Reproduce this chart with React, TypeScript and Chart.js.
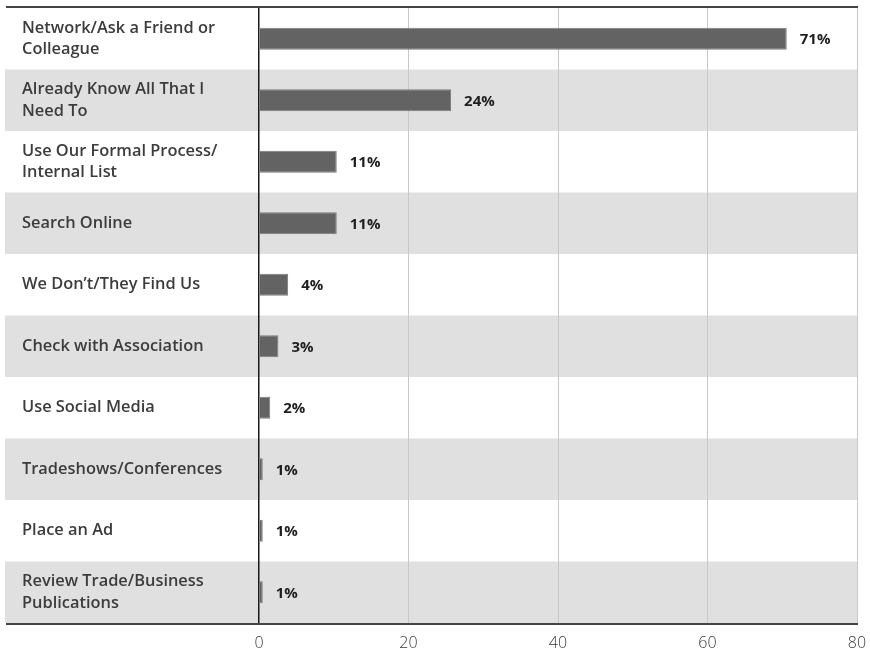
import React, { useEffect, useRef } from "react";
import { Chart, registerables } from "chart.js";

Chart.register(...registerables);

const categories: string[][] = [
  ["Network/Ask a Friend or", "Colleague"],
  ["Already Know All That I", "Need To"],
  ["Use Our Formal Process/", "Internal List"],
  ["Search Online"],
  ["We Don’t/They Find Us"],
  ["Check with Association"],
  ["Use Social Media"],
  ["Tradeshows/Conferences"],
  ["Place an Ad"],
  ["Review Trade/Business", "Publications"],
];

// bar lengths as drawn in the picture
const barValues: number[] = [70.6, 25.7, 10.4, 10.4, 3.9, 2.6, 1.5, 0.5, 0.5, 0.5];
// printed value labels
const valueLabels: string[] = ["71%", "24%", "11%", "11%", "4%", "3%", "2%", "1%", "1%", "1%"];

const xTicks: number[] = [0, 20, 40, 60, 80];

const FONT = "'Open Sans', 'Noto Sans', sans-serif";

export default function App() {
  const ref = useRef<HTMLCanvasElement | null>(null);

  useEffect(() => {
    document.body.style.margin = "0";
    const canvas = ref.current;
    if (!canvas) return;

    const bandsPlugin = {
      id: "bands",
      beforeDraw(chart: any) {
        const { ctx } = chart;
        const y = chart.scales.y;
        const n = categories.length;
        const h = (y.bottom - y.top) / n;
        const left = 5;
        const right = chart.chartArea.right + 1;
        ctx.save();
        ctx.fillStyle = "#e0e0e0";
        for (let i = 0; i < n; i++) {
          if (i % 2 === 1) {
            const c = y.getPixelForValue(i);
            ctx.fillRect(left, c - h / 2, right - left, h);
          }
        }
        ctx.restore();
      },
      afterDraw(chart: any) {
        const { ctx } = chart;
        const y = chart.scales.y;
        const right = chart.chartArea.right + 1;
        ctx.save();
        ctx.strokeStyle = "#444";
        ctx.lineWidth = 2;
        ctx.beginPath();
        ctx.moveTo(6, y.top - 1);
        ctx.lineTo(right, y.top - 1);
        ctx.moveTo(6, y.bottom + 1);
        ctx.lineTo(right, y.bottom + 1);
        ctx.stroke();
        ctx.restore();
      },
    };

    const valueLabelPlugin = {
      id: "valueLabels",
      afterDatasetsDraw(chart: any) {
        const { ctx } = chart;
        const meta = chart.getDatasetMeta(0);
        ctx.save();
        ctx.font = `700 15px ${FONT}`;
        ctx.fillStyle = "#1e1e1e";
        ctx.textAlign = "left";
        ctx.textBaseline = "middle";
        meta.data.forEach((bar: any, i: number) => {
          ctx.fillText(valueLabels[i], bar.x + 13, bar.y + 1);
        });
        ctx.restore();
      },
    };

    const chart = new Chart(canvas, {
      type: "bar",
      data: {
        labels: categories,
        datasets: [
          {
            data: barValues,
            backgroundColor: "#636363",
            borderColor: "#7a7a7a",
            borderWidth: 1,
            barPercentage: 0.36,
            categoryPercentage: 1,
          },
        ],
      },
      options: {
        indexAxis: "y",
        animation: false,
        responsive: false,
        maintainAspectRatio: false,
        layout: { padding: { top: 8, right: 13, left: 22, bottom: 0 } },
        plugins: {
          legend: { display: false },
          tooltip: { enabled: false },
        },
        scales: {
          x: {
            min: 0,
            max: 80,
            afterBuildTicks(scale: any) {
              scale.ticks = xTicks.map((v) => ({ value: v }));
            },
            afterFit(scale: any) {
              scale.height = 30;
              scale.paddingLeft = 0;
              scale.paddingRight = 0;
            },
            border: { display: false },
            grid: {
              color: (c: any) => (c.tick && c.tick.value === 0 ? "#1a1a1a" : "#c8c8c8"),
              lineWidth: (c: any) => (c.tick && c.tick.value === 0 ? 1.5 : 1),
              drawTicks: false,
            },
            ticks: {
              padding: 11,
              color: "#3a3a3a",
              font: { family: FONT, size: 16, weight: "300" as any },
            },
          },
          y: {
            afterFit(scale: any) {
              scale.width = 237;
              scale.paddingTop = 0;
              scale.paddingBottom = 0;
            },
            border: { display: false },
            grid: { display: false, drawTicks: false },
            ticks: {
              crossAlign: "far",
              padding: 0,
              color: "#3c3c3c",
              font: { family: FONT, size: 16.4, weight: "600" as any, lineHeight: 1.3 },
            },
          },
        },
      },
      plugins: [bandsPlugin, valueLabelPlugin],
    });

    return () => chart.destroy();
  }, []);

  return (
    <div style={{ width: 870, height: 653 }}>
      <canvas ref={ref} width={870} height={653} style={{ display: "block" }} />
    </div>
  );
}
